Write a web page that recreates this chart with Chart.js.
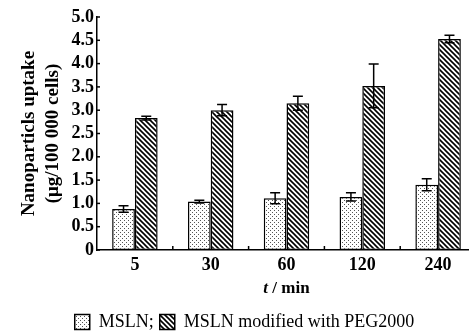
<!DOCTYPE html>
<html>
<head>
<meta charset="utf-8">
<script src="https://cdn.jsdelivr.net/npm/chart.js@4"></script>
<style>
  body { margin: 0; overflow: hidden; background: #fff; }
</style>
</head>
<body>
<canvas id="myChart" width="480" height="333"></canvas>
<script>
const categories = ["5", "30", "60", "120", "240"];
const mslnValues = [0.88, 1.04, 1.11, 1.14, 1.40];
const mslnErrors = [0.07, 0.03, 0.12, 0.09, 0.13];
const pegValues = [2.83, 3.00, 3.15, 3.52, 4.53];
const pegErrors = [0.04, 0.12, 0.15, 0.47, 0.08];
const yTicks = [0, 0.5, 1.0, 1.5, 2.0, 2.5, 3.0, 3.5, 4.0, 4.5, 5.0];

function dotPattern() {
  const c = document.createElement("canvas");
  c.width = 4;
  c.height = 4;
  const g = c.getContext("2d");
  g.fillStyle = "#fff";
  g.fillRect(0, 0, 4, 4);
  g.fillStyle = "#555";
  g.fillRect(0, 0, 1, 1);
  g.fillRect(2, 2, 1, 1);
  return g.createPattern(c, "repeat");
}

function hatchPattern() {
  const c = document.createElement("canvas");
  c.width = 5;
  c.height = 5;
  const g = c.getContext("2d");
  g.fillStyle = "#fff";
  g.fillRect(0, 0, 5, 5);
  g.strokeStyle = "#000";
  g.lineWidth = 1.6;
  g.beginPath();
  g.moveTo(-1, -1);
  g.lineTo(6, 6);
  g.moveTo(-1, 4);
  g.lineTo(1, 6);
  g.moveTo(4, -1);
  g.lineTo(6, 1);
  g.stroke();
  return g.createPattern(c, "repeat");
}

// error bars, inward tick marks, x title with italic t
const extras = {
  id: "extras",
  afterDatasetsDraw(chart) {
    const ctx = chart.ctx;
    const x = chart.scales.x;
    const y = chart.scales.y;
    const errs = [mslnErrors, pegErrors];
    ctx.save();
    ctx.strokeStyle = "#000";
    ctx.lineWidth = 1.5;
    chart.data.datasets.forEach((ds, di) => {
      const meta = chart.getDatasetMeta(di);
      meta.data.forEach((bar, i) => {
        const v = ds.data[i];
        const e = errs[di][i];
        const top = y.getPixelForValue(v + e);
        const bot = y.getPixelForValue(v - e);
        ctx.beginPath();
        ctx.moveTo(bar.x, top);
        ctx.lineTo(bar.x, bot);
        ctx.moveTo(bar.x - 5, top);
        ctx.lineTo(bar.x + 5, top);
        ctx.moveTo(bar.x - 5, bot);
        ctx.lineTo(bar.x + 5, bot);
        ctx.stroke();
      });
    });
    // y ticks pointing inward
    yTicks.forEach((t) => {
      const py = y.getPixelForValue(t);
      ctx.beginPath();
      ctx.moveTo(x.left, py);
      ctx.lineTo(x.left + 3, py);
      ctx.stroke();
    });
    // x minor ticks between categories
    for (let i = 0; i < categories.length; i++) {
      const px = (x.getPixelForValue(i) + x.getPixelForValue(i + 1)) / 2;
      ctx.beginPath();
      ctx.moveTo(px, y.bottom);
      ctx.lineTo(px, y.bottom - 4);
      ctx.stroke();
    }
    // x title: italic t + " / min"
    const cx = (x.left + x.right) / 2;
    const ty = x.bottom - 8 - 10;
    const fItal = "italic bold 17px 'Liberation Serif'";
    const fBold = "bold 17px 'Liberation Serif'";
    ctx.font = fItal;
    const w1 = ctx.measureText("t").width;
    ctx.font = fBold;
    const w2 = ctx.measureText(" / min").width;
    const sx = cx - (w1 + w2) / 2;
    ctx.fillStyle = "#000";
    ctx.textBaseline = "middle";
    ctx.textAlign = "left";
    ctx.font = fItal;
    ctx.fillText("t", sx, ty);
    ctx.font = fBold;
    ctx.fillText(" / min", sx + w1, ty);
    ctx.restore();
  },
};

const ctx = document.getElementById("myChart").getContext("2d");
const chart = new Chart(ctx, {
  type: "bar",
  data: {
    labels: categories,
    datasets: [
      {
        label: "MSLN;",
        data: mslnValues,
        backgroundColor: dotPattern(),
        borderColor: "#000",
        borderWidth: 1.5,
        borderSkipped: false,
      },
      {
        label: "MSLN modified with PEG2000",
        data: pegValues,
        backgroundColor: hatchPattern(),
        borderColor: "#000",
        borderWidth: 1.5,
        borderSkipped: false,
      },
    ],
  },
  options: {
    responsive: false,
    animation: false,
    categoryPercentage: 0.6,
    barPercentage: 1.0,
    layout: {
      padding: { left: 13, right: 4, top: 17, bottom: -8 },
    },
    plugins: {
      tooltip: { enabled: false },
      legend: {
        position: "bottom",
        labels: {
          color: "#000",
          font: { family: "Liberation Serif", size: 18 },
          boxWidth: 15,
          boxHeight: 15,
          padding: 6,
        },
      },
    },
    scales: {
      x: {
        grid: { display: false, drawTicks: false },
        border: { display: true, color: "#000", width: 1.5 },
        ticks: {
          color: "#000",
          padding: 5,
          font: { family: "Liberation Serif", size: 18, weight: "bold" },
        },
        title: {
          // space for the title drawn by the plugin
          display: true,
          text: "",
          padding: { top: -3, bottom: 8 },
          font: { family: "Liberation Serif", size: 17, weight: "bold" },
        },
      },
      y: {
        min: 0,
        max: 5,
        grid: { display: false, drawTicks: false },
        border: { display: true, color: "#000", width: 1.5 },
        afterBuildTicks: (axis) => {
          axis.ticks = yTicks.map((v) => ({ value: v }));
        },
        ticks: {
          color: "#000",
          padding: 3,
          autoSkip: false,
          font: { family: "Liberation Serif", size: 18, weight: "bold" },
          callback: (v) => (v === 0 ? "0" : v.toFixed(1)),
        },
        title: {
          display: true,
          text: ["Nanoparticls uptake", "(μg/100 000 cells)"],
          color: "#000",
          padding: 4,
          font: { family: "Liberation Serif", size: 19, weight: "bold", lineHeight: 1.25 },
        },
      },
    },
  },
  plugins: [extras],
});
</script>
</body>
</html>
